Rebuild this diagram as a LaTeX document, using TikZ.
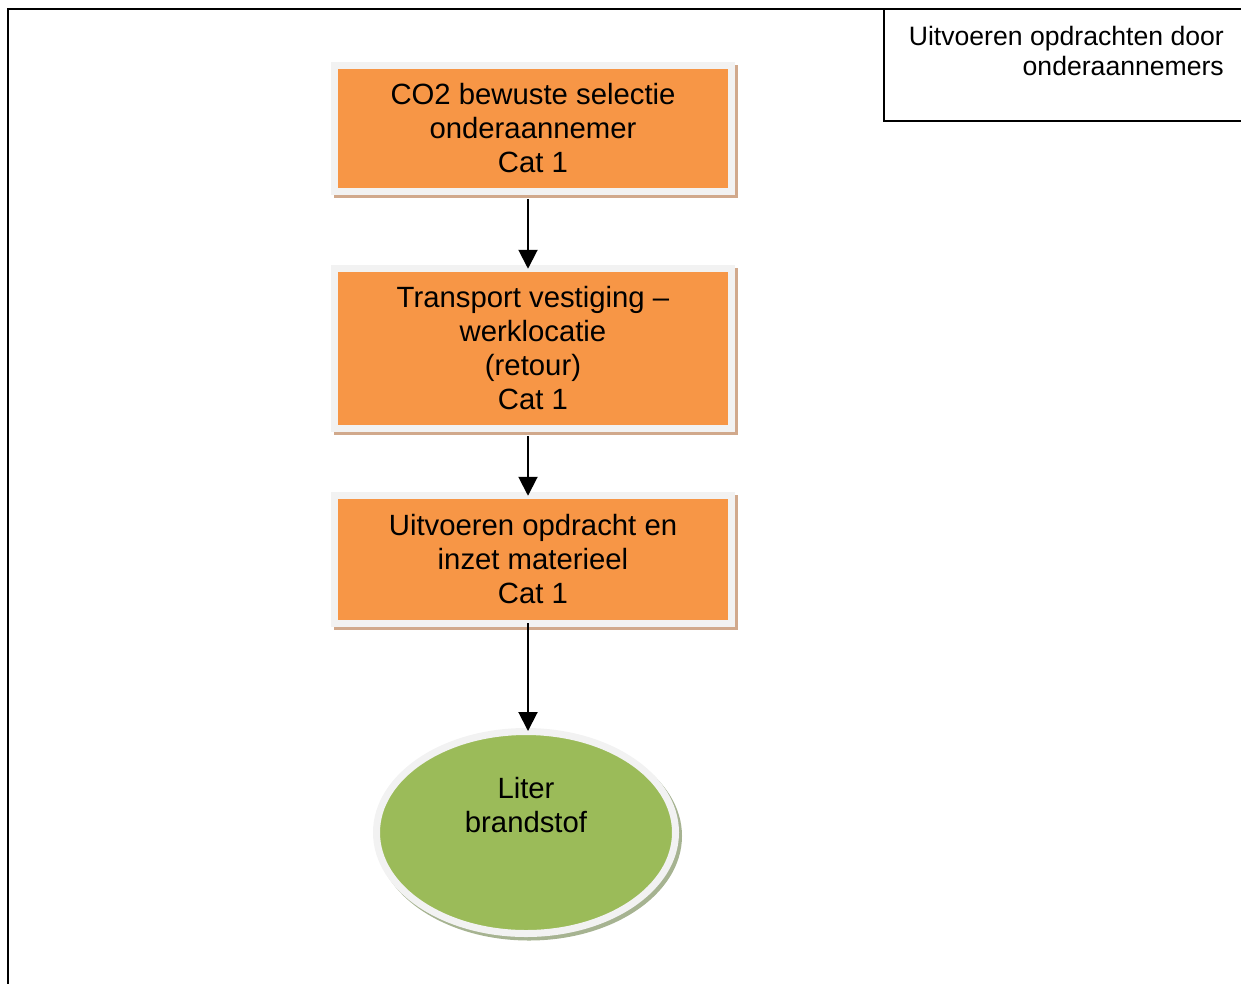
\documentclass[tikz,border=0pt]{standalone}
\usepackage{fontspec}
\setmainfont{Liberation Sans}
\usetikzlibrary{arrows.meta,shapes.geometric}
\definecolor{boxorange}{HTML}{F79646}
\definecolor{rimgray}{HTML}{F2F2F2}
\definecolor{boxshadow}{HTML}{D1A98C}
\definecolor{ellgreen}{HTML}{9BBB59}
\definecolor{ellshadow}{HTML}{A6B391}
\tikzset{
  stepbox/.style={rectangle, fill=boxorange, draw=rimgray, line width=7pt,
    minimum width=396.5pt, inner sep=0pt, align=center,
    font=\fontsize{29.3}{34}\selectfont},
  endell/.style={ellipse, fill=ellgreen, draw=rimgray, line width=7pt,
    minimum width=299pt, minimum height=202pt, inner sep=0pt},
  flow/.style={line width=2pt, -{Triangle[width=19pt,length=19pt]}},
  frame/.style={line width=2pt, black}
}
\begin{document}
\begin{tikzpicture}[x=1pt,y=-1pt]
\useasboundingbox (0,0) rectangle (1241,983);
% outer frame
\draw[frame] (1242,9) -- (8,9) -- (8,984);
% title box
\draw[line width=1.6pt] (884,9) -- (884,121) -- (1242,121);
\node[anchor=north east, align=right, font=\fontsize{26.6}{30}\selectfont, inner sep=0pt]
  (title) at (1224,26) {Uitvoeren opdrachten door\\onderaannemers};
% shadows
\fill[boxshadow] (334,65) rectangle (738,198);
\fill[boxshadow] (334,268) rectangle (738,435);
\fill[boxshadow] (334,495) rectangle (738,630);
\fill[ellshadow] (529,836) ellipse [x radius=153, y radius=104.5];
% boxes
\node[stepbox, minimum height=125.5pt] (b1) at (533,128.5)
  {\rule{0pt}{4pt}CO2 bewuste selectie\\onderaannemer\\Cat 1};
\node[stepbox, minimum height=160.5pt] (b2) at (533,348.5)
  {\rule{0pt}{4pt}Transport vestiging --\\werklocatie\\(retour)\\Cat 1};
\node[stepbox, minimum height=128.5pt] (b3) at (533,559.5)
  {\rule{0pt}{4pt}Uitvoeren opdracht en\\inzet materieel\\Cat 1};
\node[endell] (e) at (526,832.5) {};
\node[align=center, font=\fontsize{29.3}{34}\selectfont, inner sep=0pt]
  (etxt) at (526,805) {Liter\\brandstof};
% connectors
\draw[flow, shorten <=4pt, shorten >=-4pt] ([xshift=-5pt]b1.south) -- ([xshift=-5pt]b2.north);
\draw[flow, shorten <=4pt, shorten >=-4pt] ([xshift=-5pt]b2.south) -- ([xshift=-5pt]b3.north);
\draw[flow, shorten <=-4pt, shorten >=-3pt] ([xshift=-5pt]b3.south) -- ([xshift=-5pt]b3.south |- e.north);
\end{tikzpicture}
\end{document}
